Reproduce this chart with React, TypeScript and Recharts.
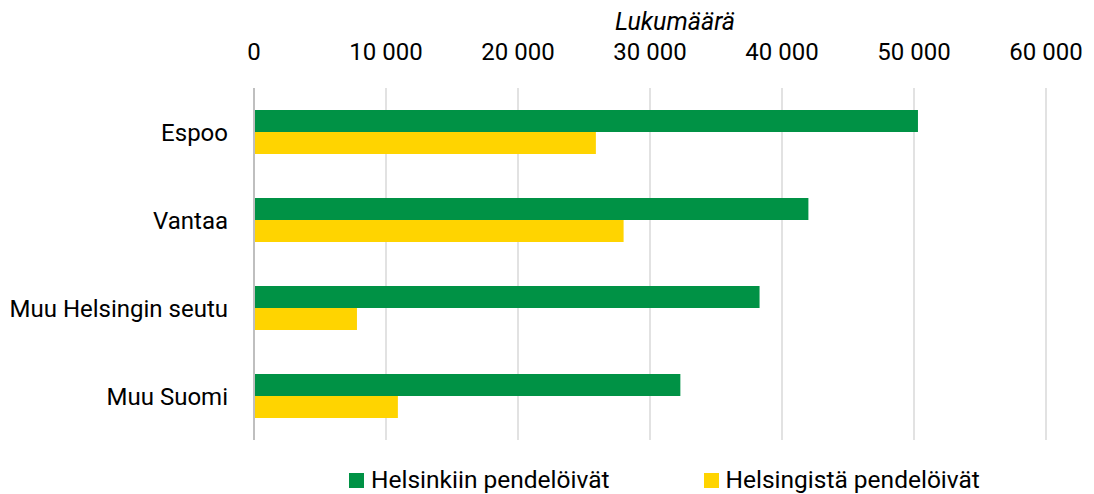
import React from 'react';
import { BarChart, Bar, XAxis, YAxis, CartesianGrid, Legend, Label } from 'recharts';

const categories = ['Espoo', 'Vantaa', 'Muu Helsingin seutu', 'Muu Suomi'];
const toHelsinki = [50300, 42000, 38300, 32300];
const fromHelsinki = [25900, 28000, 7800, 10900];
const xTicks = [0, 10000, 20000, 30000, 40000, 50000, 60000];
const seriesNames = ['Helsinkiin pendelöivät', 'Helsingistä pendelöivät'];
const seriesColors = ['#009245', '#FFD400'];

const data = categories.map((c, i) => ({ name: c, a: toHelsinki[i], b: fromHelsinki[i] }));

const fmt = (v: number) => (v >= 1000 ? `${Math.floor(v / 1000)} ${String(v % 1000).padStart(3, '0')}` : String(v));

const FONT = 'Roboto, "Noto Sans", sans-serif';

const LegendContent = () => (
  <div style={{ display: 'flex', alignItems: 'center', paddingLeft: 349, fontFamily: FONT, fontSize: 24.5, color: '#000', lineHeight: '28px' }}>
    {seriesNames.map((n, i) => (
      <div key={n} style={{ display: 'flex', alignItems: 'center', marginRight: i === 0 ? 94 : 0 }}>
        <span style={{ display: 'inline-block', width: 15, height: 15, background: seriesColors[i], marginRight: 7 }} />
        <span>{n}</span>
      </div>
    ))}
  </div>
);

export default function App() {
  return (
    <div style={{ position: 'absolute', left: 0, top: 0, background: '#fff' }}>
      <BarChart
        width={1094}
        height={494}
        data={data}
        layout="vertical"
        margin={{ top: 0, right: 48, bottom: 26, left: 0 }}
        barCategoryGap="25%"
        barGap={0}
      >
        <CartesianGrid horizontal={false} vertical={true} stroke="#d9d9d9" strokeWidth={1.5} />
        <XAxis
          type="number"
          orientation="top"
          domain={[0, 60000]}
          ticks={xTicks}
          tickFormatter={fmt}
          height={88}
          axisLine={false}
          tickLine={false}
          tickSize={0}
          tickMargin={28}
          tick={{ fill: '#000', fontSize: 24, fontFamily: FONT }}
          interval={0}
        >
          <Label value="Lukumäärä" position="insideTop" offset={12} dx={25} style={{ fontStyle: 'italic', fontSize: 25, fontFamily: FONT, fill: '#000' }} />
        </XAxis>
        <YAxis
          type="category"
          dataKey="name"
          width={254}
          axisLine={{ stroke: '#bfbfbf', strokeWidth: 2 }}
          tickLine={false}
          tickSize={0}
          tickMargin={26}
          tick={{ fill: '#000', fontSize: 24, fontFamily: FONT }}
          interval={0}
        />
        <Legend verticalAlign="bottom" content={<LegendContent />} wrapperStyle={{ left: 0, width: 1094, top: 466 }} />
        <Bar dataKey="a" name={seriesNames[0]} fill={seriesColors[0]} isAnimationActive={false} />
        <Bar dataKey="b" name={seriesNames[1]} fill={seriesColors[1]} isAnimationActive={false} />
      </BarChart>
    </div>
  );
}
